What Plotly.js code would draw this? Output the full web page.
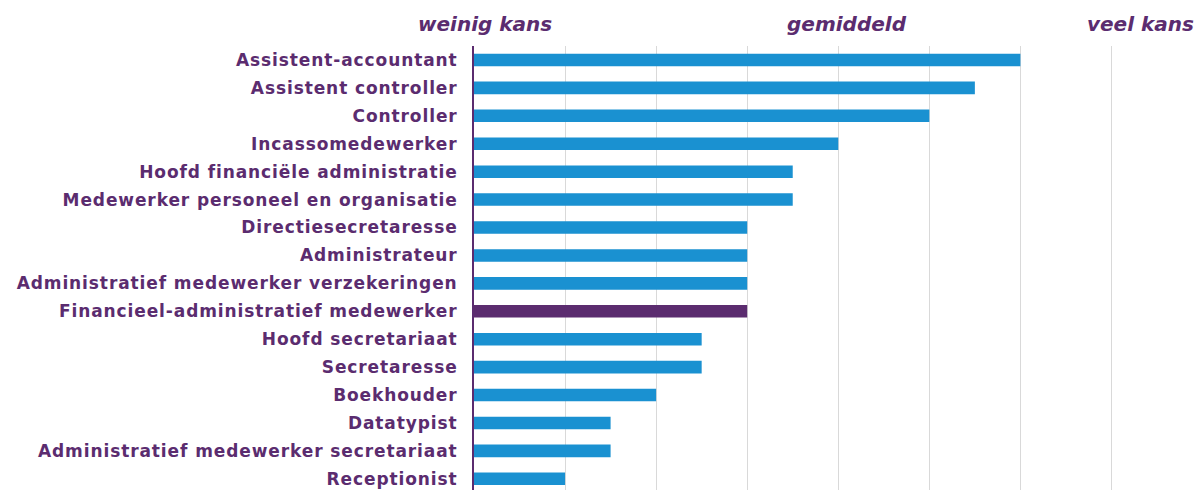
<!DOCTYPE html>
<html>
<head>
<meta charset="utf-8">
<script src="https://cdn.plot.ly/plotly-3.0.1.min.js"></script>
<style>
html,body{margin:0;padding:0;background:#fff;}
#chart{width:1196px;height:490px;}
#chart .ytick text{letter-spacing:0.9px;}
</style>
</head>
<body>
<div id="chart"></div>
<script>
const categories = [
  "Assistent-accountant",
  "Assistent controller",
  "Controller",
  "Incassomedewerker",
  "Hoofd financiële administratie",
  "Medewerker personeel en organisatie",
  "Directiesecretaresse",
  "Administrateur",
  "Administratief medewerker verzekeringen",
  "Financieel-administratief medewerker",
  "Hoofd secretariaat",
  "Secretaresse",
  "Boekhouder",
  "Datatypist",
  "Administratief medewerker secretariaat",
  "Receptionist"
];
const values = [6, 5.5, 5, 4, 3.5, 3.5, 3, 3, 3, 3, 2.5, 2.5, 2, 1.5, 1.5, 1];
const highlight = "Financieel-administratief medewerker";
const scaleLabels = ["weinig kans", "gemiddeld", "veel kans"];
const scaleLabelPositions = [0.12, 4.1, 7.32];

const purple = "#5B2C6F";
const blue = "#1A91D1";
const colors = categories.map(c => c === highlight ? purple : blue);

const trace = {
  type: "bar",
  orientation: "h",
  y: categories,
  x: values,
  marker: {color: colors},
  hoverinfo: "x+y"
};

const H = 490, T = 46, B = 0;
const plotH = H - T - B;
const annotations = scaleLabels.map((t, i) => ({
  text: t,
  x: scaleLabelPositions[i],
  xref: "x",
  y: (H - B - 24) / plotH,
  yref: "paper",
  showarrow: false,
  xanchor: "center",
  yanchor: "middle",
  font: {family: "DejaVu Sans", size: 20, color: purple, weight: "bold", style: "italic"}
}));

const layout = {
  width: 1196,
  height: H,
  margin: {l: 474, r: 39, t: T, b: B, pad: 0},
  paper_bgcolor: "#ffffff",
  plot_bgcolor: "#ffffff",
  bargap: 0.55,
  showlegend: false,
  xaxis: {
    range: [0, 7.5],
    dtick: 1,
    tick0: 0,
    showgrid: true,
    gridcolor: "#D9D9D9",
    gridwidth: 1,
    zeroline: false,
    showticklabels: false,
    ticks: "",
    fixedrange: true
  },
  yaxis: {
    type: "category",
    range: [15.4, -0.5],
    showline: true,
    linecolor: purple,
    linewidth: 2,
    ticks: "",
    ticklabelstandoff: 11,
    tickfont: {family: "DejaVu Sans", size: 17, color: purple, weight: "bold"},
    showgrid: false,
    zeroline: false,
    fixedrange: true
  },
  annotations: annotations
};

Plotly.newPlot("chart", [trace], layout, {displayModeBar: false});
</script>
</body>
</html>
